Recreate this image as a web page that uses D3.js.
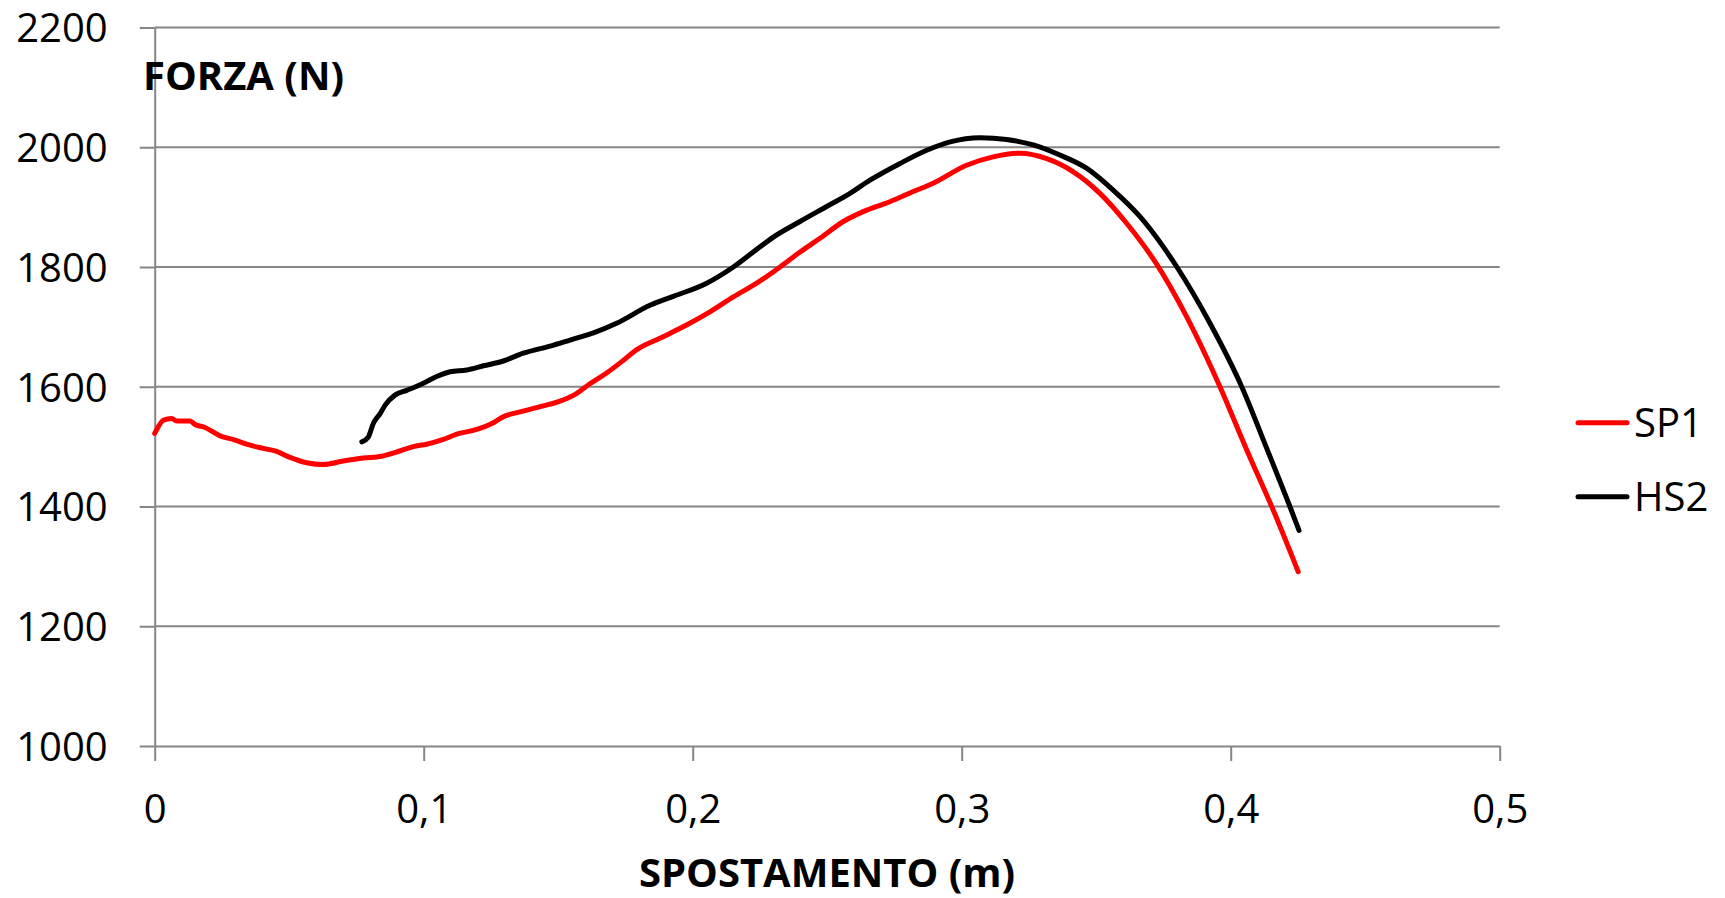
<!DOCTYPE html>
<html lang="it">
<head>
<meta charset="utf-8">
<style>
  body { margin: 0; background: #fff; }
  .axis text { font: 40px "Open Sans", sans-serif; fill: #000; }
  .axis path, .axis line { fill: none; stroke: #868686; stroke-width: 2; }
  .grid line { stroke: #868686; stroke-width: 2; }
  .title { font: bold 40px "Open Sans", sans-serif; fill: #000; }
  .legend text { font: 40px "Open Sans", sans-serif; fill: #000; }
</style>
<script src="https://d3js.org/d3.v7.min.js"></script>
</head>
<body>
<script>
  // valori
  let sp1X = [0, 0.0013, 0.0032, 0.0063, 0.0082, 0.0131, 0.015, 0.0187, 0.0243, 0.0299, 0.0342, 0.0404, 0.0453, 0.0503, 0.0565, 0.0627, 0.0701, 0.0776, 0.0844, 0.09, 0.0961, 0.1011, 0.1073, 0.1123, 0.1184, 0.1259, 0.1296, 0.1358, 0.1445, 0.1507, 0.1569, 0.1618, 0.168, 0.1742, 0.1792, 0.1878, 0.1977, 0.2064, 0.2151, 0.2238, 0.2325, 0.2399, 0.2473, 0.256, 0.2647, 0.2733, 0.282, 0.2894, 0.3018, 0.3117, 0.3217, 0.3316, 0.3415, 0.3514, 0.3613, 0.372, 0.3836, 0.396, 0.406, 0.416, 0.4251];
  let sp1Y = [1522, 1533, 1544, 1547, 1543, 1543, 1537, 1532, 1518, 1511, 1504, 1497, 1492, 1482, 1473, 1470, 1476, 1481, 1484, 1491, 1500, 1504, 1512, 1521, 1527, 1540, 1550, 1558, 1568, 1576, 1589, 1605, 1623, 1644, 1662, 1681, 1703, 1725, 1750, 1773, 1800, 1825, 1848, 1876, 1895, 1909, 1926, 1940, 1970, 1984, 1990, 1981, 1959, 1923, 1873, 1808, 1717, 1600, 1494, 1392, 1291];

  let hs2X = [0.077, 0.0794, 0.0813, 0.0838, 0.0856, 0.0893, 0.0937, 0.0999, 0.1048, 0.1098, 0.116, 0.1222, 0.1296, 0.137, 0.147, 0.1544, 0.1631, 0.1717, 0.1841, 0.1928, 0.2052, 0.2151, 0.2225, 0.23, 0.2399, 0.2498, 0.2585, 0.2659, 0.2771, 0.287, 0.2957, 0.3068, 0.3167, 0.3266, 0.3365, 0.3464, 0.3564, 0.3663, 0.3749, 0.38, 0.3923, 0.4041, 0.4134, 0.422, 0.4254];
  let hs2Y = [1508, 1516, 1539, 1555, 1569, 1586, 1594, 1606, 1617, 1625, 1628, 1635, 1643, 1656, 1668, 1678, 1690, 1706, 1736, 1751, 1773, 1800, 1825, 1850, 1876, 1901, 1923, 1945, 1973, 1995, 2009, 2016, 2013, 2004, 1987, 1965, 1928, 1884, 1834, 1800, 1706, 1600, 1497, 1400, 1360];

  let seriesNames = ["SP1", "HS2"];
  let seriesColors = ["#ff0000", "#000000"];
  let xTicks = [0, 0.1, 0.2, 0.3, 0.4, 0.5];
  let yTicks = [1000, 1200, 1400, 1600, 1800, 2000, 2200];

  let marginLeft = 154.7;
  let marginTop = 27.5;
  let width = 1345;
  let height = 718.5;

  let svg = d3.select("body")
    .append("svg")
    .attr("width", 1725)
    .attr("height", 898);

  let g = svg.append("g")
    .attr("transform", "translate(" + marginLeft + "," + marginTop + ")");

  let x = d3.scaleLinear().domain([0, 0.5]).range([0, width]);
  let y = d3.scaleLinear().domain([1000, 2200]).range([height, 0]);

  let fmt = d3.formatLocale({decimal: ",", thousands: ".", grouping: [3], currency: ["", "€"]}).format("~g");

  // griglia orizzontale
  g.append("g")
    .attr("class", "grid")
    .selectAll("line")
    .data(yTicks.slice(1))
    .join("line")
    .attr("x1", 0)
    .attr("x2", width)
    .attr("y1", function(d) { return y(d); })
    .attr("y2", function(d) { return y(d); });

  let yAxis = g.append("g")
    .attr("class", "axis")
    .call(d3.axisLeft(y).tickValues(yTicks).tickSizeInner(15).tickSizeOuter(0).tickPadding(32).tickFormat(d3.format("d")));
  yAxis.selectAll("text").attr("dy", "0.36em");

  let xAxis = g.append("g")
    .attr("class", "axis")
    .attr("transform", "translate(0," + height + ")")
    .call(d3.axisBottom(x).tickValues(xTicks).tickSizeInner(15).tickSizeOuter(0).tickFormat(fmt));
  xAxis.selectAll("text").attr("y", 77).attr("dy", 0);

  let series = [
    {name: seriesNames[0], color: seriesColors[0], xs: sp1X, ys: sp1Y},
    {name: seriesNames[1], color: seriesColors[1], xs: hs2X, ys: hs2Y}
  ];

  let line = d3.line()
    .x(function(d) { return x(d[0]); })
    .y(function(d) { return y(d[1]); })
    .curve(d3.curveMonotoneX);

  series.forEach(function(s) {
    g.append("path")
      .attr("d", line(d3.zip(s.xs, s.ys)))
      .style("fill", "none")
      .style("stroke", s.color)
      .style("stroke-width", 5)
      .style("stroke-linecap", "round")
      .style("stroke-linejoin", "round");
  });

  svg.append("text")
    .attr("class", "title")
    .attr("x", 143)
    .attr("y", 90)
    .text("FORZA (N)");

  svg.append("text")
    .attr("class", "title")
    .attr("x", 827)
    .attr("y", 887)
    .attr("text-anchor", "middle")
    .text("SPOSTAMENTO (m)");

  let legend = svg.append("g").attr("class", "legend");
  series.forEach(function(s, i) {
    let ly = 422.7 + i * 74;
    legend.append("line")
      .attr("x1", 1578).attr("x2", 1627)
      .attr("y1", ly).attr("y2", ly)
      .style("stroke", s.color)
      .style("stroke-width", 5)
      .style("stroke-linecap", "round");
    legend.append("text")
      .attr("x", 1634)
      .attr("y", ly + 14.5)
      .text(s.name);
  });
</script>
</body>
</html>
